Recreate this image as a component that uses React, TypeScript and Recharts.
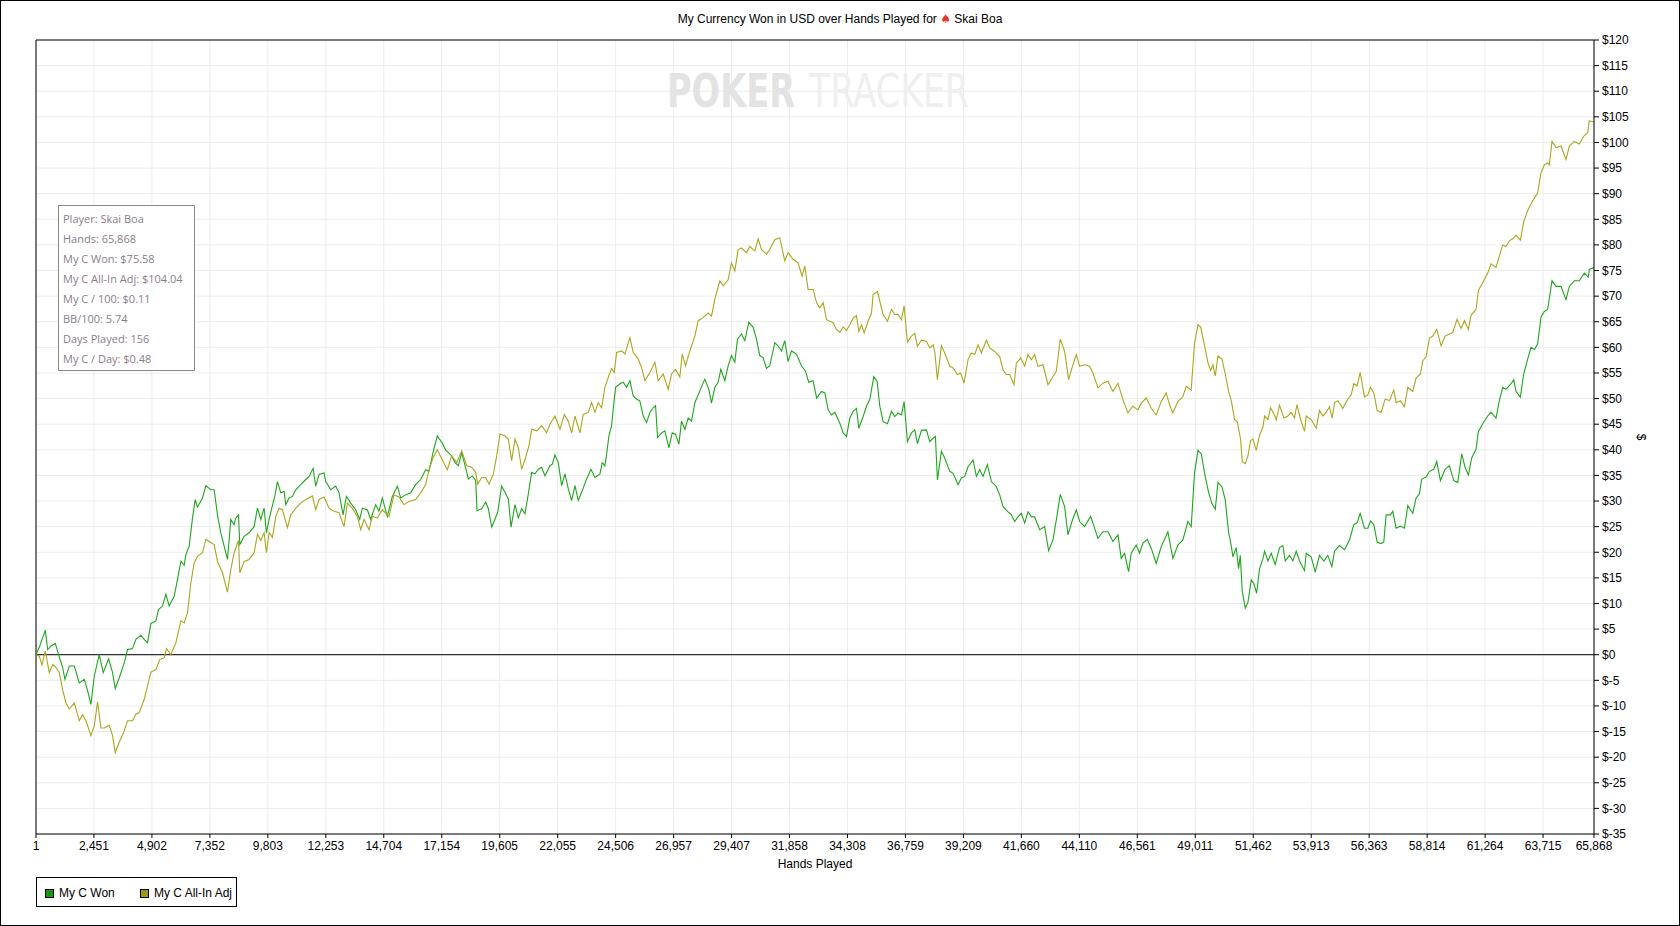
import React from "react";
import { CartesianGrid, Line, LineChart, ReferenceLine, XAxis, YAxis } from "recharts";

// [hand, $]
const wonSeries: [number, number][] = [
  [1, 0], [169, 1.8], [394, 4.8], [493, 1], [634, 1.7], [817, 2.2], [957, 0], [1126, -2.5], [1225, -4.8], [1408, -2.2],
  [1619, -2.2], [1830, -5.5], [2042, -4.8], [2182, -7], [2323, -9.7], [2464, -4.2], [2675, 0], [2844, -3.5], [3069, -0.8],
  [3238, -3.5], [3351, -6.6], [3520, -4.5], [3731, -1.6], [3872, 1], [4083, 1.2], [4224, 3], [4435, 3.8], [4576, 3],
  [4717, 2.3], [4858, 6.1], [5069, 6.6], [5181, 8.8], [5350, 9.5], [5491, 11.8], [5632, 9.5], [5843, 11.4], [5984, 14.7],
  [6125, 18.2], [6266, 17.5], [6336, 19.5], [6477, 21.2], [6618, 26.7], [6730, 30.3], [6829, 28.8], [7040, 30.6],
  [7181, 33], [7392, 32.2], [7533, 32.2], [7674, 27.3], [7814, 23.8], [7955, 21.2], [8096, 18.6], [8237, 26.4],
  [8378, 25.4], [8448, 26.7], [8561, 27.3], [8617, 21.5], [8800, 23.1], [9011, 23.8], [9222, 25], [9363, 28.6],
  [9504, 26.4], [9645, 28.6], [9743, 23.8], [9856, 26.4], [9969, 28.6], [10109, 31.2], [10208, 33.8], [10349, 31.6],
  [10490, 31.9], [10560, 29.3], [10701, 30.6], [10842, 30.9], [10982, 32.2], [11194, 33.2], [11405, 34.2], [11546, 34.8],
  [11715, 36.4], [11827, 32.9], [11968, 35.2], [12179, 35.5], [12250, 33.8], [12461, 32.2], [12672, 32.9], [12813, 31.6],
  [12982, 27.3], [13123, 30.9], [13306, 29.6], [13517, 28.3], [13686, 26.4], [13798, 28.6], [14010, 28.3], [14150, 26.4],
  [14362, 29.3], [14502, 28], [14643, 30.6], [14854, 27], [15066, 30.9], [15277, 32.9], [15418, 30.6], [15629, 31.2],
  [15840, 31.6], [16051, 33.2], [16262, 34.2], [16474, 36.1], [16614, 35.8], [16783, 39.4], [16966, 42.7], [17178, 41.3],
  [17318, 40], [17576, 38.8], [17717, 37.5], [17858, 36.9], [17999, 39.4], [18140, 36.9], [18280, 34.3], [18449, 34.9],
  [18590, 34], [18646, 28.1], [18844, 28.5], [19013, 29.8], [19125, 28.5], [19266, 24.9], [19407, 26.5], [19519, 27.8],
  [19688, 32.9], [19829, 31.7], [19970, 30.4], [20083, 24.9], [20252, 29.3], [20392, 26.7], [20533, 28.5], [20674, 27.5],
  [20815, 31.4], [20956, 35.6], [21096, 35.3], [21237, 36.2], [21378, 36.6], [21519, 34.9], [21730, 36.9], [21829, 37.2],
  [21941, 39], [22082, 37.5], [22223, 33], [22364, 35.3], [22504, 32.4], [22645, 30.1], [22786, 33], [22927, 30.1],
  [23068, 31.7], [23279, 34.3], [23462, 36.2], [23631, 34.6], [23842, 35.3], [23941, 37.5], [24053, 36.9], [24124, 39.1],
  [24222, 42.7], [24335, 44.7], [24405, 48], [24504, 52.2], [24687, 52.9], [24828, 53.2], [24968, 52.2], [25109, 53.5],
  [25250, 50.5], [25391, 49.9], [25532, 49.5], [25672, 46.6], [25813, 45.3], [25954, 47.3], [26095, 48.2], [26194, 48.6],
  [26278, 42.4], [26447, 43.3], [26588, 43.7], [26757, 40.4], [26898, 43.3], [27039, 43], [27180, 41.1], [27292, 45.6],
  [27433, 44], [27574, 46.2], [27714, 45.6], [27855, 49.2], [28066, 51.5], [28277, 53.8], [28446, 51.8], [28559, 49.1],
  [28700, 52.2], [28840, 53.2], [28953, 55.7], [29122, 53.5], [29263, 56.4], [29404, 58.4], [29544, 57.1], [29657, 61.6],
  [29826, 62.6], [29967, 61.3], [30136, 64.9], [30319, 63.9], [30460, 61.6], [30600, 58.4], [30741, 58], [30882, 55.9],
  [31023, 56.4], [31234, 60.9], [31375, 60.3], [31516, 59.3], [31656, 61.3], [31797, 57.2], [31938, 59.3], [32149, 58.7],
  [32360, 56.4], [32529, 55.4], [32670, 53.2], [32853, 53.5], [33004, 50.1], [33210, 51.4], [33351, 51.1], [33491, 47.8],
  [33632, 46.8], [33773, 47.3], [33984, 45.2], [34125, 43.3], [34266, 42.6], [34407, 46.2], [34547, 47.5], [34688, 48.1],
  [34787, 44.2], [34970, 46.5], [35111, 48.5], [35251, 49.8], [35420, 54.3], [35561, 53.4], [35674, 48.5], [35815, 45.5],
  [35998, 45.1], [36167, 47.5], [36307, 46.5], [36448, 47.2], [36589, 46.8], [36702, 49.4], [36842, 41.6], [37011, 43.3],
  [37152, 43.9], [37265, 41.2], [37434, 43.8], [37645, 43.9], [37786, 41.6], [37927, 42.3], [38025, 42.6], [38110, 34.1],
  [38279, 39.7], [38419, 38.4], [38631, 35.8], [38771, 35.4], [38983, 33.2], [39124, 34.5], [39264, 34.8], [39405, 36.7],
  [39616, 38], [39757, 34.8], [39898, 36.1], [40039, 34.8], [40222, 37.1], [40391, 33.8], [40602, 32.8], [40743, 31.2],
  [40884, 28.9], [41095, 27.9], [41236, 27.3], [41376, 26], [41517, 26.9], [41658, 27.6], [41799, 25.7], [41939, 27.9],
  [42080, 26.9], [42221, 26.9], [42432, 24.4], [42643, 25], [42812, 20.3], [42995, 22.4], [43136, 26.3], [43305, 31.3],
  [43488, 28.9], [43629, 23.4], [43798, 26], [43981, 28.3], [44122, 26], [44333, 25], [44586, 27], [44755, 24.7],
  [44896, 22.7], [45107, 24], [45318, 24], [45530, 22.1], [45741, 23.4], [45882, 18.8], [46023, 19.8], [46192, 16.2],
  [46304, 19.8], [46515, 21.4], [46656, 19.8], [46797, 21.8], [46980, 22.5], [47149, 20.8], [47360, 17.8], [47571, 21.1],
  [47853, 24], [48064, 18.8], [48275, 21.4], [48487, 22.4], [48698, 26], [48839, 25], [48979, 35.4], [49125, 39.9],
  [49266, 39.2], [49434, 34.7], [49575, 31.7], [49716, 29.5], [49857, 28.4], [49970, 33.6], [50139, 32.8], [50279, 30.2],
  [50420, 23.9], [50533, 21.3], [50603, 19.1], [50744, 20.9], [50842, 16.8], [50913, 19.4], [50997, 12.4], [51124, 9.1],
  [51237, 10.2], [51377, 14.6], [51490, 13.9], [51603, 12], [51730, 16.8], [51870, 18.7], [51941, 20.2], [52082, 18.3],
  [52222, 19.8], [52391, 17.6], [52574, 20.9], [52715, 21.3], [52814, 18.3], [52997, 19.4], [53138, 18.3], [53278, 20.2],
  [53419, 18.3], [53630, 16.4], [53701, 19.8], [53912, 19.1], [54081, 16.1], [54264, 19.4], [54447, 18.3], [54616, 19.4],
  [54785, 17.2], [54898, 20.2], [55109, 21.3], [55320, 20.5], [55531, 22.4], [55714, 25.4], [55855, 25.8], [55982, 27.6],
  [56165, 24.7], [56306, 24.7], [56418, 26.1], [56559, 25.4], [56700, 22], [56869, 21.7], [56981, 22], [57080, 27.3],
  [57263, 27.3], [57362, 28], [57502, 24.7], [57685, 25.1], [57854, 24.7], [57995, 29.1], [58206, 27.6], [58347, 30.6],
  [58488, 31.4], [58586, 34.3], [58769, 34.7], [58910, 35.8], [59093, 36.2], [59220, 37.7], [59375, 34], [59572, 36.2],
  [59755, 36.9], [59938, 34], [60107, 33.6], [60276, 39.2], [60417, 36.6], [60558, 35.1], [60698, 38.4], [60881, 40.1],
  [60980, 43.6], [61163, 45.1], [61374, 46.6], [61515, 47.3], [61726, 46.2], [61867, 49.6], [62008, 52.2], [62149, 51.8],
  [62360, 52.9], [62473, 53.7], [62571, 51.4], [62754, 50.3], [62895, 54.8], [63064, 57.7], [63205, 60], [63346, 59.6],
  [63486, 60.7], [63627, 65.9], [63768, 67], [63909, 67.4], [64092, 73], [64261, 71.9], [64473, 71.9], [64684, 69.3],
  [64825, 71.9], [65036, 73], [65247, 73], [65458, 74.5], [65627, 73.7], [65670, 75.2], [65868, 75.58],
];

const allInSeries: [number, number][] = [
  [1, 0], [141, -0.3], [253, -2], [394, 0.7], [563, -3.5], [704, -1.9], [845, -2.5], [986, -3.5], [1126, -6.8],
  [1267, -9.4], [1408, -10.6], [1619, -9.4], [1830, -12.9], [1971, -11.7], [2112, -12.9], [2323, -15.8], [2464, -13.9],
  [2605, -9.2], [2746, -14.3], [2886, -14.3], [3098, -13.8], [3238, -15.8], [3351, -19.1], [3520, -17.1], [3703, -15.2],
  [3872, -12.9], [4083, -12.9], [4224, -11.6], [4365, -11.3], [4576, -8.7], [4717, -6.1], [4858, -3.4], [5069, -2.9],
  [5238, -0.9], [5421, -0.6], [5519, 1.2], [5702, 0], [5914, 2.3], [6125, 6.6], [6266, 6.2], [6406, 8.2], [6547, 14],
  [6688, 17.9], [6829, 19.2], [7040, 19.9], [7181, 22.5], [7392, 21.9], [7533, 21.5], [7674, 18.2], [7885, 16],
  [8096, 12.2], [8237, 16.6], [8378, 19.9], [8561, 22.3], [8617, 16], [8800, 18.2], [9011, 18.6], [9222, 19.9],
  [9363, 23.5], [9504, 22.3], [9645, 23.8], [9743, 19.9], [9856, 23.8], [9997, 22.9], [10138, 27], [10278, 28.6],
  [10419, 28.3], [10630, 24.8], [10771, 27.3], [10982, 28.6], [11194, 29.6], [11405, 30.3], [11686, 31], [11827, 28.3],
  [11968, 30.3], [12179, 30.8], [12390, 28.6], [12602, 28], [12813, 27.7], [13024, 25], [13165, 29.6], [13376, 28.6],
  [13587, 27], [13728, 24.4], [13869, 26.4], [14080, 24.4], [14221, 27], [14432, 26.7], [14643, 28.3], [14925, 27],
  [15136, 31.2], [15347, 30.8], [15558, 29.3], [15770, 29.9], [16051, 30.3], [16262, 31.6], [16474, 33.2], [16614, 36.1],
  [16783, 38.4], [16966, 40], [17178, 38], [17389, 36.1], [17576, 38.8], [17788, 37.5], [17999, 39.8], [18210, 36.9],
  [18421, 36.6], [18590, 35.6], [18675, 33.3], [18844, 34.6], [19013, 34.6], [19153, 33.3], [19336, 35.3], [19477, 38.8],
  [19618, 43.1], [19829, 42.7], [19970, 42.1], [20111, 37.9], [20252, 42.1], [20392, 40.4], [20533, 36.2], [20674, 38.1],
  [20843, 40.8], [20956, 44], [21167, 43.7], [21378, 44.7], [21589, 43.3], [21730, 45], [21941, 46.6], [22152, 44],
  [22335, 46.9], [22504, 45.6], [22645, 43.3], [22786, 46.6], [22997, 43.3], [23138, 46.9], [23349, 47.3], [23490, 49.2],
  [23631, 47.3], [23772, 49.2], [23912, 48.2], [24053, 52.2], [24222, 54.5], [24335, 55.9], [24447, 55.1], [24546, 59],
  [24757, 59.3], [24898, 58.7], [25109, 61.9], [25250, 59], [25461, 57.7], [25602, 56.1], [25743, 53.5], [25954, 55.1],
  [26165, 57.1], [26306, 53.5], [26517, 54.8], [26728, 51.8], [26869, 54.8], [27039, 55.7], [27221, 54.2], [27320, 58.7],
  [27461, 56.4], [27644, 59.3], [27855, 62.2], [27996, 65.2], [28207, 65.8], [28418, 66.7], [28559, 66.1], [28700, 69.4],
  [28911, 73], [29052, 72], [29263, 73.2], [29404, 76.5], [29544, 74.9], [29685, 79.1], [29826, 79.4], [30037, 78.5],
  [30178, 79.7], [30389, 78.8], [30530, 81.2], [30671, 79.1], [30882, 78.2], [31023, 79.1], [31234, 81], [31445, 81.4],
  [31656, 76.9], [31797, 78.5], [32008, 77.2], [32220, 76.5], [32389, 73.9], [32501, 75.9], [32642, 71.3], [32853, 71.3],
  [33004, 68.7], [33139, 67.7], [33280, 68.7], [33421, 65.4], [33562, 65.1], [33703, 64.8], [33843, 63.5], [33984, 62.9],
  [34125, 64], [34266, 63.3], [34407, 64.4], [34547, 65.7], [34688, 66.2], [34787, 63.1], [34899, 64.4], [35012, 62.8],
  [35181, 65.1], [35322, 66.7], [35392, 70.3], [35575, 70.9], [35674, 69], [35815, 66.4], [35998, 65.1], [36167, 67.4],
  [36307, 66.4], [36448, 66.4], [36589, 65.4], [36702, 68.1], [36842, 61], [37011, 62.2], [37152, 62.7], [37265, 60.2],
  [37434, 61.4], [37645, 61.2], [37786, 59.9], [37927, 60.5], [37997, 59.2], [38110, 53.7], [38279, 60.3], [38419, 58.9],
  [38631, 56.3], [38771, 56], [38954, 54.7], [39095, 55], [39236, 53], [39405, 57.6], [39546, 58.9], [39687, 58.6],
  [39828, 60.5], [39968, 58.9], [40180, 61.4], [40320, 59.9], [40531, 59.2], [40743, 58.2], [40884, 55.6], [41025, 54.7],
  [41165, 54.7], [41348, 52.7], [41447, 56.9], [41630, 57.9], [41799, 56.3], [41939, 58.6], [42080, 57.6], [42221, 58.6],
  [42362, 56.3], [42573, 56.6], [42784, 52.7], [42995, 54.3], [43136, 55.3], [43305, 61.6], [43488, 59.2], [43657, 53.7],
  [43798, 56], [43981, 58.6], [44122, 56.3], [44333, 56.6], [44544, 56.3], [44685, 55], [44896, 52.1], [45107, 53],
  [45318, 53.4], [45530, 51.4], [45741, 53], [45952, 49.8], [46163, 47.2], [46375, 48.5], [46586, 47.8], [46727, 49.1],
  [46938, 50.1], [47149, 48.1], [47360, 46.8], [47571, 49.4], [47783, 51.1], [47923, 48.8], [48064, 47.2], [48275, 49.4],
  [48487, 50.4], [48628, 52.4], [48839, 51.7], [48979, 60.8], [49125, 64.4], [49237, 64], [49406, 60.3], [49547, 57],
  [49660, 55.5], [49758, 56.6], [49857, 54.4], [49970, 58.3], [50139, 57.7], [50279, 54.8], [50420, 51.4], [50533, 49.6],
  [50674, 45.9], [50786, 45.5], [50927, 42.1], [50997, 37.7], [51124, 37.3], [51237, 38.8], [51349, 41.8], [51448, 42.1],
  [51589, 39.9], [51730, 42.9], [51870, 44.4], [51941, 46.6], [52082, 45.9], [52194, 48.2], [52335, 47], [52434, 45.9],
  [52574, 48.7], [52757, 46.2], [52926, 46.6], [53067, 47.3], [53208, 46.2], [53306, 48.8], [53490, 45.5], [53630, 43.6],
  [53701, 46.6], [53912, 45.9], [54123, 44.2], [54264, 47.7], [54405, 46.6], [54546, 47.3], [54686, 48.4], [54799, 46.2],
  [54898, 49.2], [55038, 49.6], [55250, 48.1], [55461, 49.9], [55602, 50.7], [55714, 52.9], [55855, 52.5], [55982, 55.1],
  [56165, 50.3], [56306, 50.7], [56418, 52.2], [56559, 51.1], [56700, 47.7], [56869, 47.3], [57038, 49.9], [57221, 49.6],
  [57404, 51.7], [57502, 49.2], [57685, 49.6], [57854, 48.4], [57995, 52.2], [58206, 51.4], [58347, 54], [58530, 54.8],
  [58628, 57.4], [58769, 58.1], [58910, 61.8], [59051, 62.2], [59220, 63.5], [59403, 60.3], [59572, 62.2], [59755, 62.6],
  [59896, 62.9], [60079, 65.5], [60248, 63.7], [60389, 65.2], [60558, 63.5], [60670, 66.3], [60881, 67.4], [60980, 71.1],
  [61163, 72.6], [61374, 74.5], [61515, 76.3], [61726, 75.6], [61867, 77.8], [62008, 80], [62149, 79.7], [62290, 80.8],
  [62431, 81.2], [62571, 81.9], [62754, 80.9], [62895, 84.5], [63064, 86.7], [63275, 88.6], [63486, 90.1], [63627, 94.1],
  [63768, 95.6], [63909, 96], [63979, 95.6], [64092, 100.2], [64261, 99], [64473, 99.3], [64684, 96.7], [64825, 99.3],
  [65036, 100.2], [65247, 99.7], [65430, 101.2], [65599, 101.9], [65670, 104.2], [65868, 104.04],
];

const handTicks = [
  1, 2451, 4902, 7352, 9803, 12253, 14704, 17154, 19605, 22055, 24506, 26957, 29407, 31858, 34308, 36759, 39209,
  41660, 44110, 46561, 49011, 51462, 53913, 56363, 58814, 61264, 63715, 65868,
];
const dollarTicks = [
  -35, -30, -25, -20, -15, -10, -5, 0, 5, 10, 15, 20, 25, 30, 35, 40, 45, 50, 55, 60, 65, 70, 75, 80, 85, 90, 95, 100,
  105, 110, 115, 120,
];
const statLines = [
  "Player: Skai Boa",
  "Hands: 65,868",
  "My C Won: $75.58",
  "My C All-In Adj: $104.04",
  "My C / 100: $0.11",
  "BB/100: 5.74",
  "Days Played: 156",
  "My C / Day: $0.48",
];
const legendItems = [
  { name: "My C Won", color: "#119a11" },
  { name: "My C All-In Adj", color: "#9c9a0c" },
];

const WON = "#1fa61f";
const ADJ = "#aba71f";
const FONT = "'Liberation Sans', Arial, sans-serif";

const wonData = wonSeries.map(([hand, value]) => ({ hand, value }));
const adjData = allInSeries.map(([hand, value]) => ({ hand, value }));

export default function App() {
  return (
    <div style={{ position: "absolute", left: 0, top: 0, width: 1680, height: 926, background: "#fff", fontFamily: FONT }}>
      <LineChart width={1680} height={926} margin={{ top: 40, right: 26, bottom: 62, left: 36 }}>
        <CartesianGrid stroke="#ececec" strokeWidth={1} />
        <XAxis
          dataKey="hand"
          type="number"
          domain={[1, 65868]}
          ticks={handTicks}
          interval={0}
          allowDataOverflow
          height={30}
          stroke="#000"
          tickSize={4}
          tickMargin={3}
          tick={{ fill: "#000", fontSize: 12, fontFamily: FONT }}
          tickFormatter={(v: number) => v.toLocaleString("en-US")}
        />
        <YAxis
          orientation="right"
          type="number"
          domain={[-35, 120]}
          ticks={dollarTicks}
          interval={0}
          allowDataOverflow
          width={60}
          stroke="#000"
          tickSize={5}
          tickMargin={3}
          tick={{ fill: "#000", fontSize: 12, fontFamily: FONT }}
          tickFormatter={(v: number) => "$" + v}
        />
        <ReferenceLine y={120} stroke="#000" />
        <ReferenceLine x={1} stroke="#000" />
        <ReferenceLine y={0} stroke="#000" />
        <Line data={wonData} dataKey="value" type="linear" stroke={WON} strokeWidth={1.1} dot={false} isAnimationActive={false} />
        <Line data={adjData} dataKey="value" type="linear" stroke={ADJ} strokeWidth={1.1} dot={false} isAnimationActive={false} />
      </LineChart>

      <div style={{ position: "absolute", left: 0, top: 12, width: 1680, textAlign: "center", fontSize: 12, color: "#000" }}>
        My Currency Won in USD over Hands Played for <span style={{ color: "#e2352c", fontFamily: "'DejaVu Sans'" }}>♠</span> Skai Boa
      </div>

      {/* watermark: smaller font stretched tall so the words don't collide */}
      <svg style={{ position: "absolute", left: 0, top: 0, pointerEvents: "none" }} width={1680} height={926}>
        <g transform="translate(0 107) scale(1 1.17)">
          <text x={667} y={0} fontFamily="'DejaVu Sans Condensed', 'DejaVu Sans'" fontWeight="bold" fontSize={40} fill="#e3e3e3" textLength={128} lengthAdjust="spacingAndGlyphs">POKER</text>
          <text x={809} y={0} fontFamily="'DejaVu Sans Condensed', 'DejaVu Sans'" fontSize={40} fill="#efefef" textLength={160} lengthAdjust="spacingAndGlyphs">TRACKER</text>
        </g>
      </svg>

      <div
        style={{
          position: "absolute", left: 58, top: 205, width: 137, height: 166, border: "1px solid #8a8a8a", background: "#fff",
          fontFamily: "'Open Sans', sans-serif", fontSize: 11, color: "#8b7e8b", padding: "3px 0 0 4px", boxSizing: "border-box",
        }}
      >
        {statLines.map((line) => (
          <div key={line} style={{ height: 20, lineHeight: "20px", whiteSpace: "nowrap" }}>{line}</div>
        ))}
      </div>

      <div style={{ position: "absolute", left: 0, top: 857, width: 1630, textAlign: "center", fontSize: 12 }}>Hands Played</div>
      <div style={{ position: "absolute", left: 1638, top: 430, fontSize: 12, transform: "rotate(90deg)" }}>$</div>

      <div style={{ position: "absolute", left: 36, top: 877, width: 201, height: 30, border: "1px solid #000", boxSizing: "border-box", fontSize: 12 }}>
        {legendItems.map((item, i) => (
          <div key={item.name} style={{ position: "absolute", left: i === 0 ? 8 : 103, top: 8, display: "flex", alignItems: "center", whiteSpace: "nowrap" }}>
            <span style={{ display: "inline-block", width: 7, height: 7, background: item.color, border: "1px solid #000", marginRight: 5 }} />
            {item.name}
          </div>
        ))}
      </div>

      <div style={{ position: "absolute", inset: 0, border: "1px solid #000", pointerEvents: "none" }} />
    </div>
  );
}
